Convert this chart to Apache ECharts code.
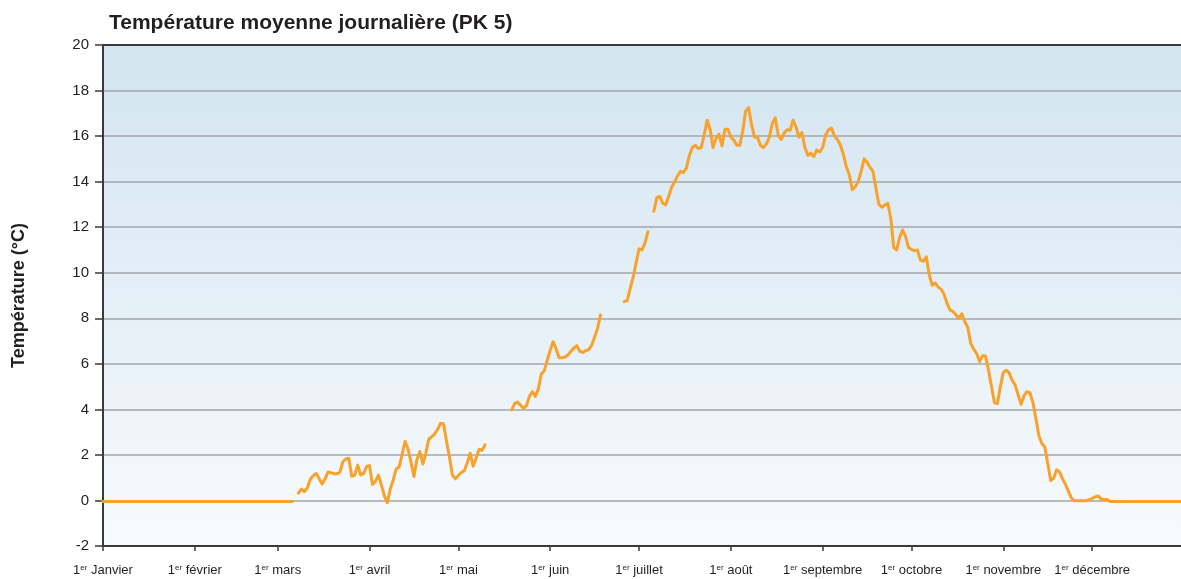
<!DOCTYPE html>
<html>
<head>
<meta charset="utf-8">
<title>Température moyenne journalière (PK 5)</title>
<script src="https://cdn.jsdelivr.net/npm/echarts@6/dist/echarts.min.js"></script>
<style>
    html, body { margin: 0; padding: 0; background: #fff; }
    #chart { width: 1181px; height: 579px; }
</style>
</head>
<body>
<div id="chart"></div>
<script>
// jours de l'année (0 = 1er janvier) où commence chaque mois
var monthStartDays = [0, 31, 59, 90, 120, 151, 181, 212, 243, 273, 304, 334];
var monthNames = ['Janvier', 'février', 'mars', 'avril', 'mai', 'juin', 'juillet', 'août', 'septembre', 'octobre', 'novembre', 'décembre'];

var yTicks = [-2, 0, 2, 4, 6, 8, 10, 12, 14, 16, 18, 20];

// températures moyennes journalières (°C), null = pas de mesure
var janToMar = [];
for (var i = 0; i < 65; i++) { janToMar.push(-0.05); }   // jours 0..64, stable à 0

var marToMay = [null,
    0.32, 0.50, 0.39, 0.55, 0.93, 1.09, 1.18, 0.95, 0.72, 0.95,
    1.25, 1.22, 1.17, 1.17, 1.24, 1.70, 1.82, 1.85, 1.06, 1.11,
    1.55, 1.12, 1.18, 1.49, 1.53, 0.70, 0.83, 1.11, 0.68, 0.20,
    -0.10, 0.50, 0.90, 1.38, 1.47, 2.02, 2.60, 2.25, 1.68, 1.05,
    1.80, 2.15, 1.60, 2.07, 2.70, 2.80, 2.92, 3.12, 3.39, 3.37,
    2.60, 1.90, 1.10, 0.95, 1.10, 1.23, 1.30, 1.65, 2.07, 1.50,
    1.85, 2.25, 2.20, 2.44
];   // jours 65..129

var mayToJun = [null, null, null, null, null, null, null, null,
    3.98, 4.25, 4.32, 4.18, 4.04, 4.17, 4.58, 4.77, 4.57, 4.90,
    5.55, 5.69, 6.15, 6.60, 6.97, 6.66, 6.27, 6.27, 6.30, 6.39,
    6.55, 6.69, 6.80, 6.55, 6.50, 6.58, 6.62, 6.82, 7.18, 7.55,
    8.15
];   // jours 130..168

var junToJul = [null, null, null, null, null, null, null,
    8.73, 8.78, 9.30, 9.80, 10.42, 11.05, 11.00, 11.30, 11.80,
    null
];   // jours 169..185

var julToDec = [
    12.70, 13.30, 13.35, 13.05, 12.98, 13.35, 13.75, 13.98, 14.25, 14.45,
    14.40, 14.60, 15.15, 15.50, 15.60, 15.45, 15.50, 16.05, 16.70, 16.30,
    15.50, 15.90, 16.08, 15.57, 16.30, 16.30, 15.95, 15.83, 15.60, 15.60,
    16.20, 17.10, 17.25, 16.50, 15.95, 15.95, 15.60, 15.50, 15.65, 15.95,
    16.55, 16.80, 16.05, 15.85, 16.13, 16.28, 16.25, 16.70, 16.40, 15.95,
    16.15, 15.50, 15.15, 15.25, 15.10, 15.39, 15.30, 15.50, 16.05, 16.28,
    16.35, 16.00, 15.85, 15.60, 15.20, 14.65, 14.30, 13.65, 13.77, 14.00,
    14.45, 15.00, 14.85, 14.63, 14.45, 13.70, 13.00, 12.88, 12.97, 13.05,
    12.40, 11.10, 11.00, 11.55, 11.87, 11.60, 11.10, 11.03, 10.97, 11.00,
    10.55, 10.50, 10.70, 9.90, 9.45, 9.55, 9.37, 9.28, 9.05, 8.65,
    8.37, 8.30, 8.15, 8.00, 8.20, 7.85, 7.60, 6.90, 6.65, 6.45,
    6.10, 6.35, 6.34, 5.73, 5.00, 4.30, 4.25, 5.00, 5.62, 5.72,
    5.60, 5.27, 5.07, 4.63, 4.22, 4.60, 4.78, 4.73, 4.30, 3.60,
    2.85, 2.50, 2.36, 1.63, 0.88, 0.97, 1.35, 1.25, 0.95, 0.70,
    0.40, 0.10, -0.01, -0.01, -0.01, -0.01, -0.01, 0.03, 0.09, 0.16,
    0.20, 0.07, 0.03, 0.04
];   // jours 186..339

var decEnd = [];
for (var j = 340; j < 365; j++) { decEnd.push(-0.05); }   // jours 340..364

var temperature = [].concat(janToMar, marToMay, mayToJun, junToJul, julToDec, decEnd);

var days = [];
for (var d = 0; d < temperature.length; d++) { days.push(d); }

var narrow = "'Liberation Sans Narrow', 'Arial Narrow', 'Liberation Sans', sans-serif";

function isMonthStart(index) {
    return monthStartDays.indexOf(index) !== -1;
}

var chart = echarts.init(document.getElementById('chart'));

var option = {
    animation: false,
    backgroundColor: '#ffffff',
    title: {
        text: 'Température moyenne journalière (PK 5)',
        left: 104,
        top: 8,
        textStyle: {
            fontFamily: "'Liberation Sans', Arial, sans-serif",
            fontSize: 21,
            fontWeight: 'bold',
            color: '#231f20'
        }
    },
    grid: {
        left: 103,
        right: 0,
        top: 45,
        bottom: 33,
        show: true,
        borderWidth: 0,
        backgroundColor: new echarts.graphic.LinearGradient(0, 0, 0, 1, [
            {offset: 0, color: '#d3e5f0'},
            {offset: 0.6, color: '#e8f1f8'},
            {offset: 1, color: '#f8fbfd'}
        ])
    },
    xAxis: {
        type: 'category',
        data: days,
        boundaryGap: false,
        axisLine: {onZero: false, lineStyle: {color: '#3a3a3a', width: 2}},
        axisTick: {
            interval: function (index) { return isMonthStart(index); },
            length: 5,
            lineStyle: {color: '#3a3a3a', width: 1.5}
        },
        axisLabel: {
            interval: function (index) { return isMonthStart(index); },
            margin: 18,
            formatter: function (value) {
                var k = monthStartDays.indexOf(Number(value));
                return '{n|1}{s|er}{n| ' + monthNames[k] + '}';
            },
            rich: {
                n: {fontFamily: narrow, fontSize: 13, color: '#231f20'},
                s: {fontFamily: narrow, fontSize: 8, color: '#231f20', verticalAlign: 'top', padding: [0, 0, 5, 0]}
            }
        },
        splitLine: {show: false}
    },
    yAxis: {
        type: 'value',
        min: yTicks[0],
        max: yTicks[yTicks.length - 1],
        interval: 2,
        name: 'Température (°C)',
        nameLocation: 'middle',
        nameGap: 75,
        nameRotate: 90,
        nameTextStyle: {
            fontFamily: "'Liberation Sans', Arial, sans-serif",
            fontSize: 18,
            fontWeight: 'bold',
            color: '#231f20'
        },
        axisLine: {show: true, lineStyle: {color: '#3a3a3a', width: 2}},
        axisTick: {show: true, inside: false, length: 8, lineStyle: {color: '#3a3a3a', width: 1.5}},
        axisLabel: {
            margin: 14,
            fontFamily: narrow,
            fontSize: 15,
            color: '#231f20'
        },
        splitLine: {
            show: true,
            lineStyle: {color: '#a3a6a9', width: 1.5}
        }
    },
    series: [
        {
            name: 'Température',
            type: 'line',
            data: temperature,
            showSymbol: false,
            connectNulls: false,
            smooth: false,
            z: 5,
            lineStyle: {color: '#f8a12b', width: 3, join: 'round', cap: 'round'},
            itemStyle: {color: '#f8a12b'}
        },
        { // bordure haute du cadre (ligne des 20)
            type: 'line',
            data: [],
            markLine: {
                silent: true,
                symbol: 'none',
                label: {show: false},
                lineStyle: {color: '#3a3a3a', width: 2, type: 'solid'},
                data: [{yAxis: yTicks[yTicks.length - 1]}]
            }
        }
    ]
};

chart.setOption(option);
</script>
</body>
</html>
